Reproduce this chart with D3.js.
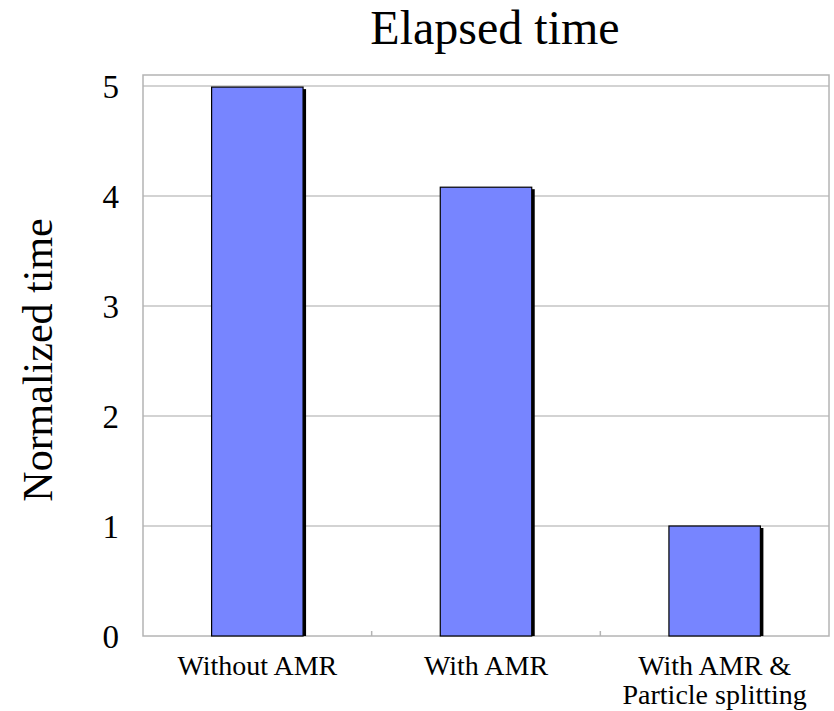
<!DOCTYPE html>
<html><head><meta charset="utf-8">
<script src="https://cdn.jsdelivr.net/npm/d3@7"></script>
<style>body{margin:0;background:#fff}svg{display:block}text{font-family:"Liberation Serif","Times New Roman",serif;fill:#000}</style>
</head><body><svg id="c" width="834" height="711"></svg>
<script>
const categories = [["Without AMR"], ["With AMR"], ["With AMR &", "Particle splitting"]];
const values = [4.99, 4.08, 1.0];
const yTicks = [0, 1, 2, 3, 4, 5];
const title = "Elapsed time";
const yLabel = "Normalized time";

const svg = d3.select("#c");
const L = 143, R = 829, T = 75, B = 636;
const x = d3.scaleBand().domain(d3.range(categories.length)).range([L, R]).paddingInner(0.6).paddingOuter(0.3);
const xb = d3.scaleBand().domain(d3.range(categories.length)).range([L, R]);
const y = d3.scaleLinear().domain([0, 5.1]).range([B, T]);

// frame + gridlines
svg.append("g").selectAll("line").data(yTicks.filter(d => d > 0)).join("line")
  .attr("x1", L).attr("x2", R).attr("y1", d => y(d)).attr("y2", d => y(d))
  .attr("stroke", "#c4c4c4").attr("stroke-width", 1.5);
svg.append("rect").attr("x", L).attr("y", T).attr("width", R - L).attr("height", B - T)
  .attr("fill", "none").attr("stroke", "#b4b4b4").attr("stroke-width", 1.5);
// x category ticks
svg.append("g").selectAll("line").data(d3.range(1, categories.length)).join("line")
  .attr("x1", d => xb(d)).attr("x2", d => xb(d)).attr("y1", B - 5).attr("y2", B)
  .attr("stroke", "#b4b4b4").attr("stroke-width", 1.5);

// bars: shadow then bar
const bars = svg.append("g");
bars.selectAll("rect.s").data(values).join("rect").attr("class", "s")
  .attr("x", (d, i) => x(i) + 3).attr("y", d => y(d) + 2)
  .attr("width", x.bandwidth()).attr("height", d => B - y(d) - 2).attr("fill", "#000");
bars.selectAll("rect.b").data(values).join("rect").attr("class", "b")
  .attr("x", (d, i) => x(i)).attr("y", d => y(d))
  .attr("width", x.bandwidth()).attr("height", d => B - y(d))
  .attr("fill", "#7785ff").attr("stroke", "#000").attr("stroke-width", 1.2);

// y tick labels
svg.append("g").selectAll("text").data(yTicks).join("text")
  .attr("x", 119).attr("y", d => y(d)).attr("dy", "0.35em").attr("text-anchor", "end")
  .attr("font-size", 33).text(d => d);

// x labels
const xl = svg.append("g").selectAll("text").data(categories).join("text")
  .attr("text-anchor", "middle").attr("font-size", 28)
  .attr("transform", (d, i) => `translate(${xb(i) + xb.bandwidth() / 2},675)`);
xl.selectAll("tspan").data(d => d).join("tspan")
  .attr("x", 0).attr("y", (d, j) => j * 29).text(d => d);

svg.append("text").attr("x", 495).attr("y", 44).attr("text-anchor", "middle")
  .attr("font-size", 48).text(title);
svg.append("text").attr("transform", "translate(52,360) rotate(-90)")
  .attr("text-anchor", "middle").attr("font-size", 42).text(yLabel);
</script></body></html>
